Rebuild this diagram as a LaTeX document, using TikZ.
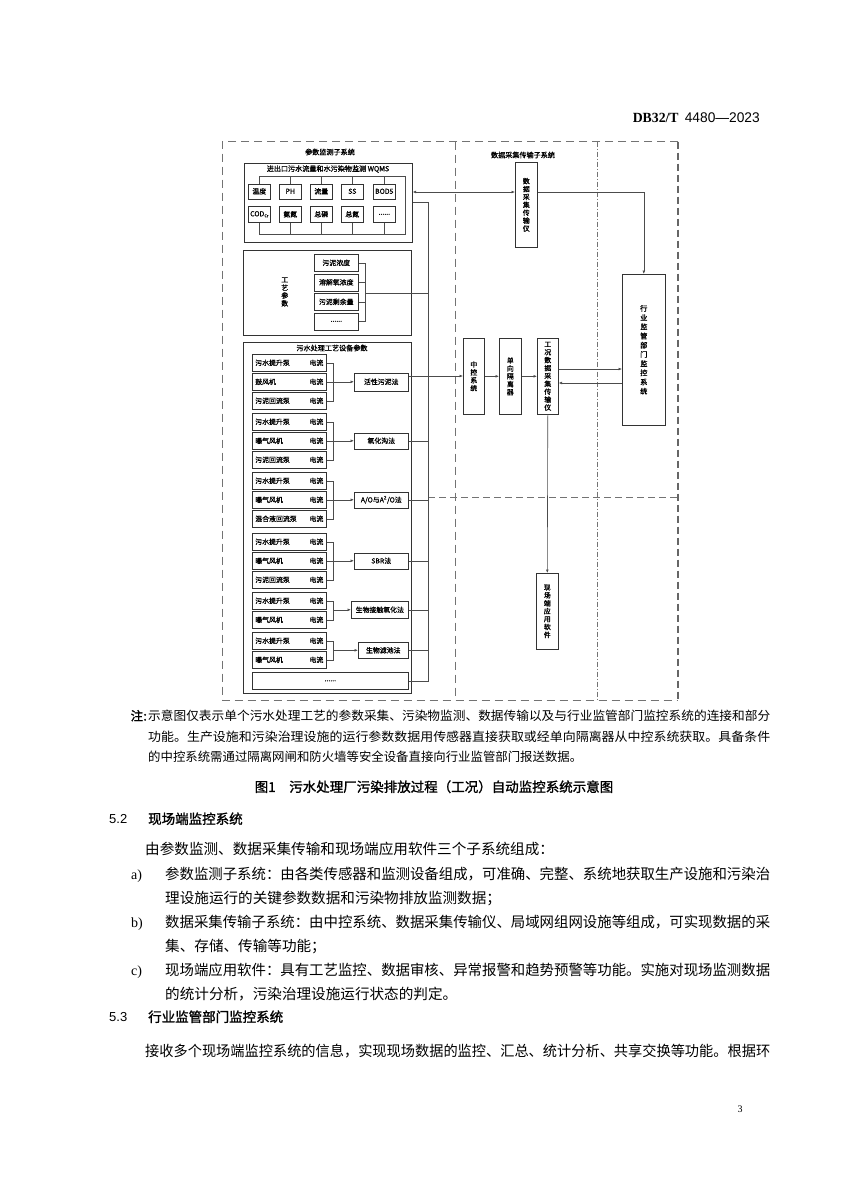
\documentclass[tikz,border=0pt]{standalone}
\usepackage{fontspec}
\usepackage{graphicx}
\setmainfont{Noto Sans CJK SC}
\newfontfamily\dgf[FakeBold=1.1]{Noto Sans CJK SC}
\newfontfamily\hbf[FakeBold=1.5]{Noto Sans CJK SC}
\newfontfamily\lserif{Liberation Serif}
\newfontfamily\lsans{Liberation Sans}
\usetikzlibrary{arrows.meta}
\newcommand{\sixdots}{......}
\newcommand{\codcr}{COD\raisebox{-1pt}{\fontsize{4}{4}\selectfont Cr}}
\newcommand{\eqrow}[3]{\node[bx, minimum width=74pt, minimum height=17pt] (#1) at (252,#2) {\makebox[68pt]{#3\hfill 电流}};}
\newcommand{\brkthree}[4]{%
  \draw[ln] (#1.east) -- (#1.east -| bk) -- (#3.east -| bk) -- (#3.east);
  \draw[ln] (#2.east) -- (#2.east -| bk);
  \draw[ar] (#4.west -| bk) -- (#4.west);}
\newcommand{\brktwo}[3]{%
  \draw[ln] (#1.east) -- (#1.east -| bk) -- (#2.east -| bk) -- (#2.east);
  \draw[ar] (#3.west -| bk) -- (#3.west);}
\begin{document}
\begin{tikzpicture}[x=1pt,y=-1pt,
  bx/.style={draw=black!80, line width=0.6pt, inner sep=0pt, anchor=north west,
    font=\dgf\fontsize{6.9}{7.9}\selectfont, align=center},
  ln/.style={draw=black!70, line width=0.6pt},
  ar/.style={ln, -{Latex[length=3.5pt,width=2.8pt]}},
  ttl/.style={font=\dgf\fontsize{7.1}{8}\selectfont, inner sep=0pt},
  body/.style={anchor=base west, inner sep=0pt, font=\fontsize{14.6}{16}\selectfont},
  lbl/.style={anchor=base west, inner sep=0pt, font=\lserif\fontsize{14}{16}\selectfont},
  note/.style={anchor=base west, inner sep=0pt, font=\fontsize{12.4}{14}\selectfont},
  head/.style={anchor=base west, inner sep=0pt, font=\hbf\fontsize{13.5}{15}\selectfont},
  fr/.style={draw=black!55, line width=0.8pt, dash pattern=on 8pt off 5pt},
  frr/.style={draw=black!60, line width=1.6pt, dash pattern=on 7pt off 4pt},
  frd/.style={draw=black!55, line width=0.7pt, dash pattern=on 5pt off 2pt on 1pt off 2pt},
]
\fill[white] (0,0) rectangle (850,1192);
\useasboundingbox (0,0) rectangle (850,1192);

% ---------- header ----------
\node[anchor=base east, inner sep=0pt] (hdr) at (760,122)
  {\resizebox{127pt}{\height}{\fontsize{14}{16}\selectfont{\lserif\bfseries DB32/T}\ \ {\lsans 4480—2023}}};

% ---------- frame ----------
\draw[fr] (678,141.7) -- (222,141.7) -- (222,700) -- (678,700);
\draw[frr] (678,141.7) -- (678,700);
\draw[fr] (455,141.7) -- (455,700);
\draw[frd] (597,141.7) -- (597,700);
\draw[fr, dash pattern=on 7pt off 4pt] (428,497) -- (678,497);

\node[ttl] (t1) at (330,152) {参数监测子系统};
\node[ttl] (t2) at (523,155) {数据采集传输子系统};

% ---------- WQMS ----------
\node[bx, minimum width=168pt, minimum height=79pt] (wqms) at (244,163) {};
\node[ttl] (wt) at (328,169) {进出口污水流量和水污染物监测 WQMS};
\foreach \t/\x [count=\i] in {温度/248, PH/279, 流量/310, SS/341, BOD5/373}
  \node[bx, minimum width=22pt, minimum height=15pt] (s\i) at (\x,183.5) {\t};
\foreach \t/\x [count=\i from 6] in {\codcr/248, 氨氮/279, 总磷/310, 总氮/341, \sixdots/373}
  \node[bx, minimum width=22pt, minimum height=16pt] (s\i) at (\x,206) {\t};
\coordinate (wtr) at (405,176);
\coordinate (wbr) at (405,234);
\draw[ln] (s1.north) -- (s1.north |- wtr) -- (wtr) -- (wbr) -- (s6.south |- wbr) -- (s6.south);
\foreach \i in {2,3,4,5} \draw[ln] (s\i.north) -- (s\i.north |- wtr);
\foreach \i in {7,8,9,10} \draw[ln] (s\i.south) -- (s\i.south |- wbr);

% ---------- process parameters ----------
\node[bx, minimum width=168pt, minimum height=85pt] (gy) at (243,250) {};
\node[bx, draw=none] (gyl) at (281,277) {工\\艺\\参\\数};
\foreach \t/\y [count=\i] in {污泥浓度/254, 溶解氧浓度/273.5, 污泥剩余量/293, \sixdots/312.5}
  \node[bx, minimum width=44pt, minimum height=17pt] (p\i) at (314,\y) {\t};
\coordinate (bk2) at (365,0);
\draw[ln] (p1.east) -- (p1.east -| bk2) -- (p4.east -| bk2) -- (p4.east);
\draw[ln] (p2.east) -- (p2.east -| bk2);
\draw[ln] (p3.east) -- (p3.east -| bk2);

% ---------- equipment parameters ----------
\node[bx, minimum width=168pt, minimum height=351pt] (eq) at (243,342) {};
\node[ttl] (et) at (332,348) {污水处理工艺设备参数};
\eqrow{a1}{354}{污水提升泵}
\eqrow{a2}{373}{鼓风机}
\eqrow{a3}{392}{污泥回流泵}
\eqrow{b1}{413}{污水提升泵}
\eqrow{b2}{432}{曝气风机}
\eqrow{b3}{451}{污泥回流泵}
\eqrow{c1}{472}{污水提升泵}
\eqrow{c2}{491}{曝气风机}
\eqrow{c3}{510}{混合液回流泵}
\eqrow{d1}{533}{污水提升泵}
\eqrow{d2}{552}{曝气风机}
\eqrow{d3}{571}{污泥回流泵}
\eqrow{e1}{592}{污水提升泵}
\eqrow{e2}{611}{曝气风机}
\eqrow{f1}{632}{污水提升泵}
\eqrow{f2}{651}{曝气风机}
\node[bx, minimum width=156pt, minimum height=17pt] (dots) at (252,672) {\sixdots};

\node[bx, minimum width=54pt, minimum height=18pt] (m1) at (354,372.5) {活性污泥法};
\node[bx, minimum width=54pt, minimum height=16pt] (m2) at (354,432.5) {氧化沟法};
\node[bx, minimum width=54pt, minimum height=16pt] (m3) at (354,491.5) {A/O与A\textsuperscript{2}/O法};
\node[bx, minimum width=54pt, minimum height=16pt] (m4) at (354,552.5) {SBR法};
\node[bx, minimum width=57pt, minimum height=17pt] (m5) at (351,601) {生物接触氧化法};
\node[bx, minimum width=50pt, minimum height=16pt] (m6) at (358,642) {生物滤池法};

\coordinate (bk) at (333,0);
\brkthree{a1}{a2}{a3}{m1}
\brkthree{b1}{b2}{b3}{m2}
\brkthree{c1}{c2}{c3}{m3}
\brkthree{d1}{d2}{d3}{m4}
\brktwo{e1}{e2}{m5}
\brktwo{f1}{f2}{m6}

% ---------- data acquisition column ----------
\node[bx, minimum width=22pt, minimum height=85pt] (daq) at (515,162) {数\\据\\采\\集\\传\\输\\仪};
\node[bx, minimum width=21pt, minimum height=76pt] (zk) at (463,338) {中\\控\\系\\统};
\node[bx, minimum width=22pt, minimum height=76pt] (dx) at (499,338) {单\\向\\隔\\离\\器};
\node[bx, minimum width=21pt, minimum height=76pt] (gk) at (537,338) {工\\况\\数\\据\\采\\集\\传\\输\\仪};
\node[bx, minimum width=22pt, minimum height=76pt] (xc) at (536,573) {现\\场\\端\\应\\用\\软\\件};
\node[bx, minimum width=43pt, minimum height=151pt, font=\dgf\fontsize{7.2}{9.2}\selectfont] (hy) at (622,274) {行\\业\\监\\管\\部\\门\\监\\控\\系\\统};

% ---------- bus and connectors ----------
\coordinate (bus) at (428,0);
\coordinate (y192) at (0,192);
\coordinate (y202) at (0,202);
\coordinate (y293) at (0,293);
\coordinate (y376) at (0,376);
\coordinate (y369) at (0,369);
\coordinate (y383) at (0,383);
\draw[ln, {Latex[length=3.5pt,width=2.8pt]}-{Latex[length=3.5pt,width=2.8pt]}] (wqms.east |- y192) -- (daq.west |- y192);
\draw[ar] (daq.east |- y192) -- (hy.north |- y192) -- (hy.north);
\draw[ln] (wqms.east |- y202) -- (y202 -| bus) -- (dots.east -| bus) -- (dots.east);
\draw[ln] (y293 -| bk2) -- (y293 -| bus);
\draw[ln] (m1.east |- y376) -- (y376 -| bus);
\draw[ar] (y376 -| bus) -- (zk.west |- y376);
\foreach \m in {m2,m3,m4,m5,m6} \draw[ln] (\m.east) -- (\m.east -| bus);
\draw[ar] (zk.east) -- (dx.west);
\draw[ar] (dx.east) -- (gk.west);
\draw[ar] (gk.east |- y369) -- (hy.west |- y369);
\draw[ar] (hy.west |- y383) -- (gk.east |- y383);
\draw[ar] (gk.south) -- (xc.north);

% ---------- note and caption ----------
\node[note] (n0) at (130.5,720.5) {{\hbf 注\kern0.3pt:}};
\node[note] (n1) at (148,720.5) {\resizebox{622pt}{\height}{示意图仅表示单个污水处理工艺的参数采集、污染物监测、数据传输以及与行业监管部门监控系统的连接和部分}};
\node[note] (n2) at (148,741.5) {\resizebox{622pt}{\height}{功能。生产设施和污染治理设施的运行参数数据用传感器直接获取或经单向隔离器从中控系统获取。具备条件}};
\node[note] (n3) at (148,761.5) {的中控系统需通过隔离网闸和防火墙等安全设备直接向行业监管部门报送数据。};
\node[anchor=base, inner sep=0pt, font=\hbf\fontsize{13.5}{15}\selectfont] (cap) at (434,791.9) {图1\hspace{1em}污水处理厂污染排放过程（工况）自动监控系统示意图};

% ---------- body ----------
\node[anchor=base west, inner sep=0pt, font=\lsans\fontsize{13}{15}\selectfont] (h52) at (109,823.9) {5.2};
\node[head] (h52t) at (148,823.9) {现场端监控系统};
\node[body] (b0) at (145,854.3) {由参数监测、数据采集传输和现场端应用软件三个子系统组成：};
\node[lbl] (la) at (131,879.3) {a)};
\node[body] (b1) at (165,879.3) {\resizebox{605pt}{\height}{参数监测子系统：由各类传感器和监测设备组成，可准确、完整、系统地获取生产设施和污染治}};
\node[body] (b2) at (165,903.3) {理设施运行的关键参数数据和污染物排放监测数据；};
\node[lbl] (lb) at (131,927.3) {b)};
\node[body] (b3) at (165,927.3) {\resizebox{605pt}{\height}{数据采集传输子系统：由中控系统、数据采集传输仪、局域网组网设施等组成，可实现数据的采}};
\node[body] (b4) at (165,951.3) {集、存储、传输等功能；};
\node[lbl] (lc) at (131,975.3) {c)};
\node[body] (b5) at (165,975.3) {\resizebox{605pt}{\height}{现场端应用软件：具有工艺监控、数据审核、异常报警和趋势预警等功能。实施对现场监测数据}};
\node[body] (b6) at (165,999.3) {的统计分析，污染治理设施运行状态的判定。};
\node[anchor=base west, inner sep=0pt, font=\lsans\fontsize{13}{15}\selectfont] (h53) at (109,1021.9) {5.3};
\node[head] (h53t) at (148,1021.9) {行业监管部门监控系统};
\node[body] (b7) at (145,1056.3) {\resizebox{625pt}{\height}{接收多个现场端监控系统的信息，实现现场数据的监控、汇总、统计分析、共享交换等功能。根据环}};
\node[anchor=base, inner sep=0pt, font=\lserif\fontsize{10}{12}\selectfont] (pg) at (740,1112.5) {3};
\end{tikzpicture}
\end{document}
